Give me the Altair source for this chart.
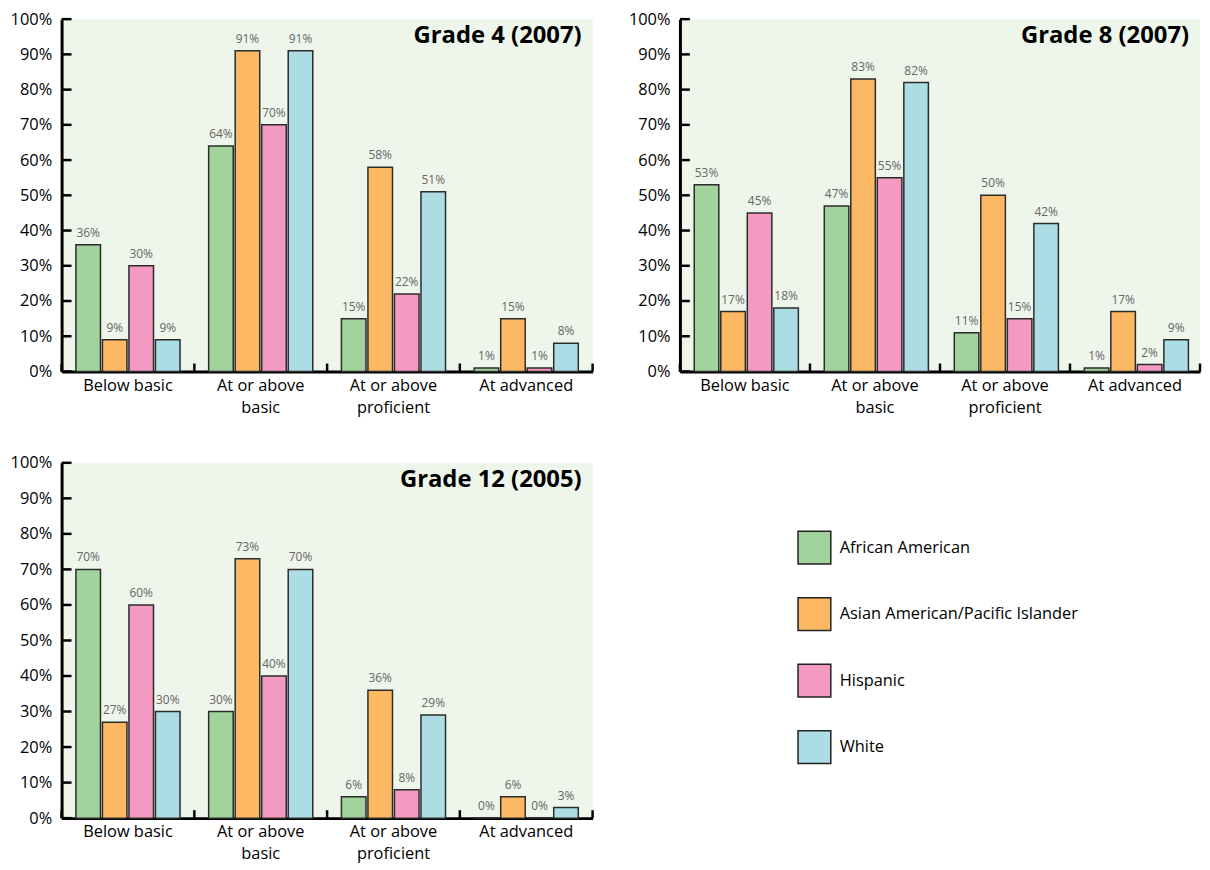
import altair as alt
import pandas as pd

FONT = "Open Sans"

levels = ["Below basic", "At or above basic", "At or above proficient", "At advanced"]
groups = ["African American", "Asian American/Pacific Islander", "Hispanic", "White"]
colors = ["#a3d39c", "#fdb863", "#f49ac2", "#acdde4"]
y_ticks = [0, 10, 20, 30, 40, 50, 60, 70, 80, 90, 100]

# values per level, in order of `levels`
g4_african = [36, 64, 15, 1]
g4_asian = [9, 91, 58, 15]
g4_hispanic = [30, 70, 22, 1]
g4_white = [9, 91, 51, 8]

g8_african = [53, 47, 11, 1]
g8_asian = [17, 83, 50, 17]
g8_hispanic = [45, 55, 15, 2]
g8_white = [18, 82, 42, 9]

g12_african = [70, 30, 6, 0]
g12_asian = [27, 73, 36, 6]
g12_hispanic = [60, 40, 8, 0]
g12_white = [30, 70, 29, 3]

LBL = 16.5


def make_df(series):
    rows = []
    for g, vals in zip(groups, series):
        for lv, v in zip(levels, vals):
            rows.append({"level": lv, "group": g, "value": v, "label": f"{v}%"})
    return pd.DataFrame(rows)


x_axis = alt.Axis(
    title=None, ticks=False, labelAngle=0, labelFontSize=LBL, labelColor="black",
    labelFont=FONT, labelPadding=6, labelLineHeight=22, labelLimit=0,
    domainColor="black", domainWidth=3,
    labelExpr="split(replace(datum.label, 'above ', 'above|'), '|')",
)
y_axis = alt.Axis(
    title=None, ticks=False, grid=False, values=y_ticks, labelFontSize=LBL,
    labelColor="black", labelFont=FONT, labelPadding=10,
    domainColor="black", domainWidth=3, labelExpr="datum.value + '%'",
)
x_scale = alt.Scale(paddingInner=0, paddingOuter=0)
y_scale = alt.Scale(domain=[0, 100], nice=False)


def panel(title, series, legend, W, H):
    df = make_df(series)
    x_enc = alt.X("level:N", sort=levels, scale=x_scale, axis=x_axis)
    y_enc = alt.Y("value:Q", scale=y_scale, axis=y_axis)
    xo = alt.XOffset("group:N", sort=groups,
                     scale=alt.Scale(paddingInner=0.074, paddingOuter=0.54))
    color = alt.Color("group:N", sort=groups,
                      scale=alt.Scale(domain=groups, range=colors), legend=legend)
    base = alt.Chart(df)
    bars = base.mark_bar(stroke="#2b2b2b", strokeWidth=1.5).encode(
        x=x_enc, xOffset=xo, y=y_enc, color=color)
    labels = base.mark_text(dy=-5, baseline="bottom", fontSize=12,
                            color="#666666", font=FONT).encode(
        x=x_enc, xOffset=xo, y=y_enc, text="label:N")
    tdf = pd.DataFrame({"t": y_ticks})
    yt = alt.Chart(tdf).mark_rule(color="black", strokeWidth=2.5).encode(
        y=alt.Y("t:Q", scale=y_scale, axis=y_axis), x=alt.value(0), x2=alt.value(10))
    ldf = pd.DataFrame({"level": levels})
    xt = alt.Chart(ldf).mark_rule(color="black", strokeWidth=2.5).encode(
        x=alt.X("level:N", sort=levels, scale=x_scale, axis=x_axis, bandPosition=0),
        y=alt.value(H), y2=alt.value(H - 8))
    xt_end = alt.Chart(ldf).transform_filter(
        alt.datum.level == levels[-1]).mark_rule(color="black", strokeWidth=2.5).encode(
        x=alt.X("level:N", sort=levels, scale=x_scale, axis=x_axis, bandPosition=1),
        y=alt.value(H), y2=alt.value(H - 8))
    ttl = alt.Chart(pd.DataFrame({"t": [title]})).mark_text(
        align="right", baseline="alphabetic", fontSize=24, fontWeight="bold",
        font=FONT, color="black").encode(text="t:N", x=alt.value(W - 11), y=alt.value(24))
    return alt.layer(bars, labels, yt, xt, xt_end, ttl).properties(
        width=W, height=H,
        view=alt.ViewBackground(fill="#eef5ea", stroke=None),
    )


legend = alt.Legend(
    orient="none", legendX=741, legendY=68, title=None, symbolType="square",
    symbolSize=1089, symbolStrokeColor="#222222", symbolStrokeWidth=1.5,
    symbolOpacity=1, labelFontSize=LBL, labelColor="black", labelFont=FONT,
    rowPadding=28, labelOffset=8, labelLimit=0,
)

p4 = panel("Grade 4 (2007)", [g4_african, g4_asian, g4_hispanic, g4_white], None, 535, 355)
p8 = panel("Grade 8 (2007)", [g8_african, g8_asian, g8_hispanic, g8_white], None, 524, 355)
p12 = panel("Grade 12 (2005)", [g12_african, g12_asian, g12_hispanic, g12_white], legend, 535, 358)

top = alt.hconcat(p4, p8, spacing=34).resolve_scale(color="independent")
chart = alt.vconcat(top, p12, spacing=39).resolve_scale(color="independent").configure(
    font=FONT, background="white",
    padding={"left": 2, "top": 0, "right": 0, "bottom": 0})

chart.save("out.html", embed_options={"renderer": "svg", "actions": False})
